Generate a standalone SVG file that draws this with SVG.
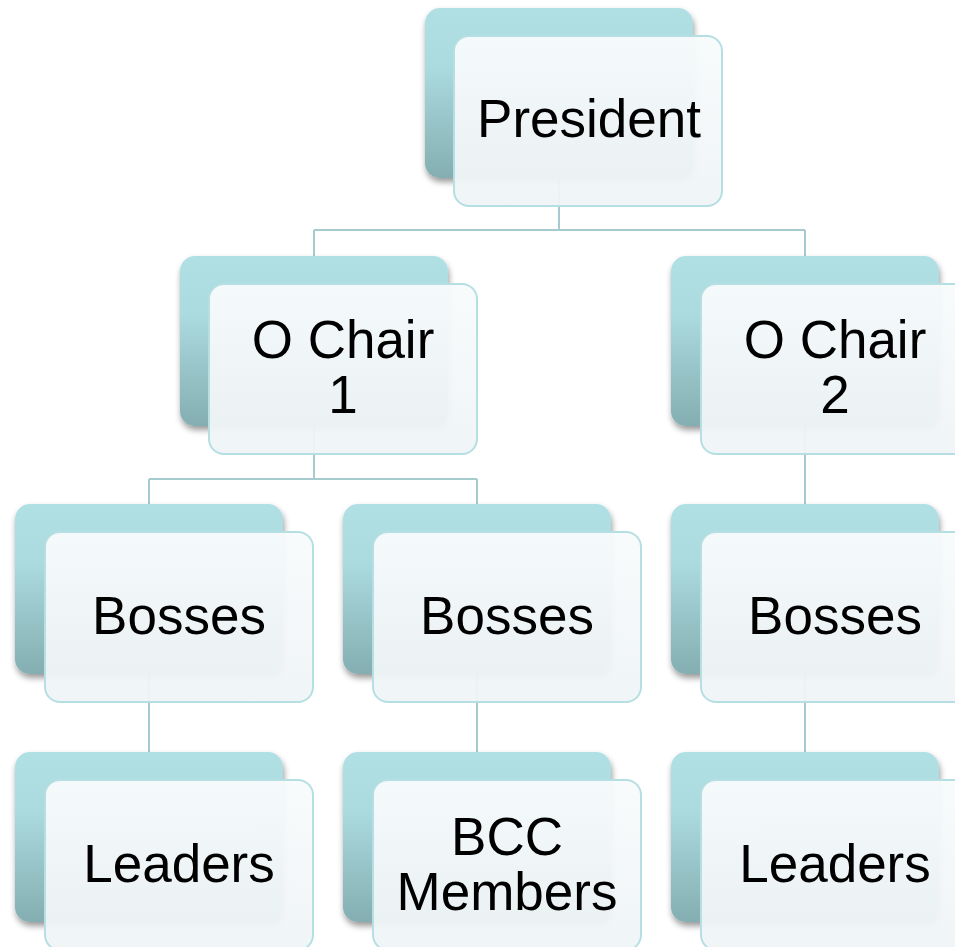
<svg xmlns="http://www.w3.org/2000/svg" width="955" height="947" viewBox="0 0 955 947">
<defs>
<linearGradient id="gBack" x1="0" y1="0" x2="0" y2="1">
<stop offset="0" stop-color="#b1e0e4"/>
<stop offset="0.35" stop-color="#abdadf"/>
<stop offset="1" stop-color="#84aeb1"/>
</linearGradient>
<linearGradient id="gFront" x1="0" y1="0" x2="0" y2="1">
<stop offset="0" stop-color="#f8fbfc"/>
<stop offset="1" stop-color="#eff4f6"/>
</linearGradient>
<filter id="sh" x="-10%" y="-10%" width="125%" height="130%">
<feGaussianBlur in="SourceAlpha" stdDeviation="3"/>
<feOffset dx="1" dy="4" result="b"/>
<feComponentTransfer><feFuncA type="linear" slope="0.4"/></feComponentTransfer>
<feMerge><feMergeNode/><feMergeNode in="SourceGraphic"/></feMerge>
</filter>
</defs>
<style>
.back{fill:url(#gBack);filter:url(#sh)}
.front{fill:url(#gFront);fill-opacity:0.95;stroke:#b5dfe3;stroke-width:2}
.lbl{font-family:"Liberation Sans",Arial,sans-serif;font-size:53px;fill:#000;text-anchor:middle}
.conn{fill:none;stroke:#a6cbcf;stroke-width:2}
</style>
<rect width="955" height="947" fill="#fff"/>
<g id="connectors">
<path class="conn" d="M559,178 V230 M314,230 H805 M314,230 V256 M805,230 V256"/>
<path class="conn" d="M314,425 V479 M149,479 H477 M149,479 V504 M477,479 V504"/>
<path class="conn" d="M805,425 V504"/>
<path class="conn" d="M149,673 V752 M477,673 V752 M805,673 V752"/>
</g>
<g id="president">
<rect class="back" x="425" y="8" width="268" height="170" rx="15"/>
<rect class="front" x="454" y="36" width="268" height="170" rx="15"/>
<text class="lbl" x="589" y="137">President</text>
</g>
<g id="ochair1">
<rect class="back" x="180" y="256" width="268" height="170" rx="15"/>
<rect class="front" x="209" y="284" width="268" height="170" rx="15"/>
<text class="lbl" x="343" y="358">O Chair</text>
<text class="lbl" x="343" y="413">1</text>
</g>
<g id="ochair2">
<rect class="back" x="671" y="256" width="268" height="170" rx="15"/>
<rect class="front" x="701" y="284" width="268" height="170" rx="15"/>
<text class="lbl" x="835" y="358">O Chair</text>
<text class="lbl" x="835" y="413">2</text>
</g>
<g id="bosses1">
<rect class="back" x="15" y="504" width="268" height="170" rx="15"/>
<rect class="front" x="45" y="532" width="268" height="170" rx="15"/>
<text class="lbl" x="179" y="634">Bosses</text>
</g>
<g id="bosses2">
<rect class="back" x="343" y="504" width="268" height="170" rx="15"/>
<rect class="front" x="373" y="532" width="268" height="170" rx="15"/>
<text class="lbl" x="507" y="634">Bosses</text>
</g>
<g id="bosses3">
<rect class="back" x="671" y="504" width="268" height="170" rx="15"/>
<rect class="front" x="701" y="532" width="268" height="170" rx="15"/>
<text class="lbl" x="835" y="634">Bosses</text>
</g>
<g id="leaders1">
<rect class="back" x="15" y="752" width="268" height="170" rx="15"/>
<rect class="front" x="45" y="780" width="268" height="170" rx="15"/>
<text class="lbl" x="179" y="882">Leaders</text>
</g>
<g id="bccmembers">
<rect class="back" x="343" y="752" width="268" height="170" rx="15"/>
<rect class="front" x="373" y="780" width="268" height="170" rx="15"/>
<text class="lbl" x="507" y="855">BCC</text>
<text class="lbl" x="507" y="910">Members</text>
</g>
<g id="leaders2">
<rect class="back" x="671" y="752" width="268" height="170" rx="15"/>
<rect class="front" x="701" y="780" width="268" height="170" rx="15"/>
<text class="lbl" x="835" y="882">Leaders</text>
</g>
</svg>
